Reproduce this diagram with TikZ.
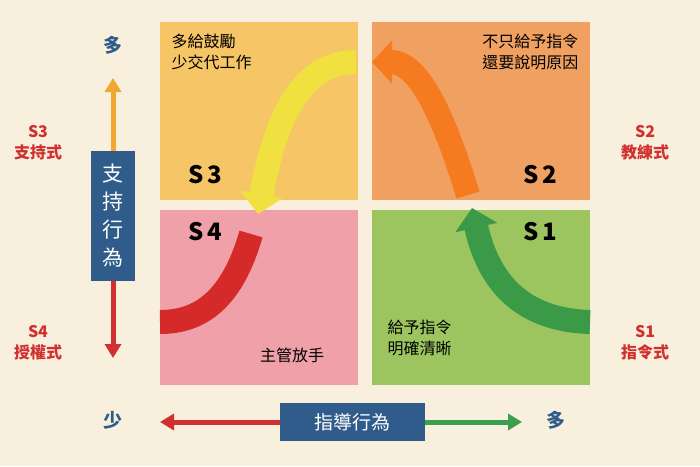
\documentclass[tikz,border=0pt]{standalone}
\usepackage{fontspec}
\setmainfont{Noto Sans CJK TC}
\usetikzlibrary{arrows.meta, calc}
\definecolor{bgc}{HTML}{F8F0DC}
\definecolor{qthree}{HTML}{F5C566}
\definecolor{qtwo}{HTML}{F0A060}
\definecolor{qfour}{HTML}{F0A0A8}
\definecolor{qone}{HTML}{9CC560}
\definecolor{axblue}{HTML}{2F5C8A}
\definecolor{lblred}{HTML}{D03030}
\definecolor{bandred}{HTML}{D42A2A}
\definecolor{bandyel}{HTML}{F0E040}
\definecolor{bandorg}{HTML}{F57A20}
\definecolor{bandgrn}{HTML}{3A9A48}
\definecolor{axgrn}{HTML}{3AA050}
\definecolor{axorg}{HTML}{F0A830}
\begin{document}
\begin{tikzpicture}[x=1pt, y=-1pt]
    \tikzset{
        band/.style={line width=24pt, -{Triangle[width=42pt,length=20pt]}},
        big/.style={font=\fontsize{24}{24}\selectfont\bfseries},
        txt/.style={font=\fontsize{16}{21}\selectfont, align=left},
        side/.style={font=\fontsize{16}{21}\selectfont\bfseries, text=lblred, align=center},
        axbox/.style={fill=axblue, text=white, font=\fontsize{19}{22}\selectfont},
        axis/.style={line width=5pt, -{Triangle[width=16pt,length=14pt]}}
    }
    \fill[bgc] (0,0) rectangle (700,466);
    \useasboundingbox (0,0) rectangle (700,466);

    % quadrants
    \fill[qthree] (160,22) rectangle (358,200);
    \fill[qtwo] (372,22) rectangle (590,200);
    \fill[qfour] (160,210) rectangle (358,385);
    \fill[qone] (372,210) rectangle (590,385);

    % curve
    \coordinate (c1) at (590,322);
    \coordinate (c2) at (472,208);
    \coordinate (c3) at (372,62);
    \coordinate (c4) at (258,214);
    \coordinate (c5) at (160,322);
    \draw[band, bandgrn] (c1) .. controls (520,320) and (488,280) .. (c2);
    \draw[band, bandorg] (468,195) .. controls (445,120) and (420,62) .. (c3);
    \draw[band, bandyel] (356,62) .. controls (300,62) and (275,120) .. (c4);
    \draw[line width=24pt, bandred] (251,234) .. controls (232,300) and (200,322) .. (c5);

    % quadrant labels
    \node[big] (s3) at (205,175) {S\,3};
    \node[big] (s2) at (540,175) {S\,2};
    \node[big] (s4) at (205,232) {S\,4};
    \node[big] (s1) at (540,232) {S\,1};
    \node[txt, anchor=north west] (t3) at (168,30) {多給鼓勵\\少交代工作};
    \node[txt, anchor=north east, align=right] (t2) at (582,30) {不只給予指令\\還要說明原因};
    \node[txt] (t4) at (292,355) {主管放手};
    \node[txt, anchor=north west] (t1) at (384,316) {給予指令\\明確清晰};

    % vertical axis
    \coordinate (vtop) at (113,78);
    \coordinate (vmid) at (113,215);
    \coordinate (vbot) at (113,358);
    \draw[axis, axorg] (vmid) -- (vtop);
    \draw[axis, lblred] (vmid) -- (vbot);
    \node[axbox, minimum width=44pt, minimum height=130pt, align=center,
          font=\fontsize{21}{28}\selectfont] (vbox) at (113,216) {支\\持\\行\\為};
    \node[font=\fontsize{19}{19}\selectfont\bfseries, text=axblue] (vmore) at (113,45) {多};
    \node[font=\fontsize{19}{19}\selectfont\bfseries, text=axblue] (vless) at (113,420) {少};

    % horizontal axis
    \coordinate (hl) at (160,422);
    \coordinate (hm) at (352,422);
    \coordinate (hr) at (522,422);
    \draw[axis, lblred] (hm) -- (hl);
    \draw[axis, axgrn] (hm) -- (hr);
    \node[axbox, minimum width=145pt, minimum height=38pt] (hbox) at (352,422) {指導行為};
    \node[font=\fontsize{19}{19}\selectfont\bfseries, text=axblue] (hmore) at (556,420) {多};

    % side labels
    \node[side] (l3) at (38,143) {S3\\支持式};
    \node[side] (l4) at (38,343) {S4\\授權式};
    \node[side] (r2) at (645,143) {S2\\教練式};
    \node[side] (r1) at (645,343) {S1\\指令式};
\end{tikzpicture}
\end{document}
